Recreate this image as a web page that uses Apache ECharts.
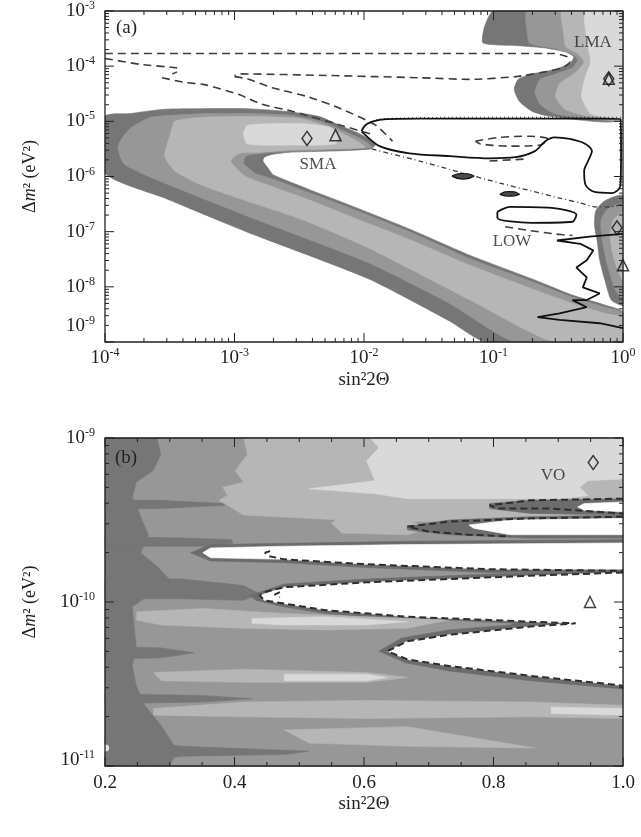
<!DOCTYPE html>
<html><head><meta charset="utf-8">
<script src="https://cdn.jsdelivr.net/npm/echarts@6/dist/echarts.min.js"></script>
<style>html,body{margin:0;padding:0;background:#fff}#c{width:641px;height:837px}</style>
</head><body><div id="c"></div>
<script>
const FONT = '"Liberation Serif","Times New Roman",serif';
const COL = {d:'#767676', m:'#979797', l:'#b6b6b6', v:'#d9d9d9', r:'#6c6c6c', w:'#ffffff', k:'#4c4c4c'};

// ---------- Panel (a): vertices as [log10(sin^2 2θ), log10(Δm^2)] ----------
const aBandDark = [[-4,-4.91],[-3.81,-4.86],[-3.54,-4.78],[-3.23,-4.77],[-2.91,-4.77],[-2.60,-4.82],[-2.35,-4.91],[-2.19,-5.07],[-2.03,-5.23],[-1.91,-5.41],[-1.95,-5.50],[-2.26,-5.54],[-2.57,-5.56],[-2.71,-5.60],[-2.77,-5.65],[-2.78,-5.72],[-2.74,-5.85],[-2.70,-5.97],[-2.44,-6.22],[-2.12,-6.51],[-1.65,-6.95],[-1.18,-7.43],[-0.71,-7.85],[-0.39,-8.15],[-0.14,-8.33],[0,-8.46],[0,-9],[-1.06,-9],[-1.34,-8.62],[-1.97,-7.85],[-2.91,-7.0],[-3.54,-6.39],[-4,-5.94]];
const aBandMed = [[-3.65,-4.93],[-3.23,-4.86],[-2.88,-4.86],[-2.57,-4.89],[-2.34,-5.0],[-2.15,-5.18],[-1.99,-5.36],[-1.94,-5.47],[-2.26,-5.52],[-2.57,-5.54],[-2.79,-5.58],[-2.91,-5.63],[-2.93,-5.76],[-2.84,-5.94],[-2.70,-6.05],[-2.44,-6.28],[-2.12,-6.56],[-1.65,-7.0],[-1.18,-7.49],[-0.71,-7.90],[-0.39,-8.19],[-0.14,-8.37],[0,-8.48],[0,-9],[-0.83,-9],[-1.34,-8.30],[-1.97,-7.56],[-2.91,-6.71],[-3.54,-6.12],[-3.85,-5.78],[-3.90,-5.45],[-3.81,-5.14]];
const aBandLight = [[-3.46,-5.0],[-3.27,-4.93],[-2.88,-4.91],[-2.49,-4.95],[-2.26,-5.11],[-2.09,-5.31],[-1.99,-5.47],[-2.26,-5.50],[-2.57,-5.52],[-2.79,-5.56],[-2.96,-5.58],[-3.03,-5.72],[-2.92,-5.99],[-2.70,-6.19],[-2.44,-6.41],[-2.12,-6.71],[-1.65,-7.14],[-1.18,-7.61],[-0.71,-8.03],[-0.39,-8.30],[-0.14,-8.48],[0,-8.57],[0,-9],[-0.54,-9],[-1.18,-8.24],[-1.97,-7.29],[-2.49,-6.77],[-2.91,-6.44],[-3.27,-6.14],[-3.46,-5.90],[-3.54,-5.63],[-3.50,-5.27]];
const aBandCore = [[-2.90,-5.07],[-2.49,-5.04],[-2.26,-5.11],[-2.20,-5.25],[-2.22,-5.41],[-2.57,-5.43],[-2.90,-5.41],[-2.93,-5.23]];
const lmaDark = [[-1.0,-3],[-1.07,-3.29],[-1.08,-3.58],[-0.80,-3.63],[-0.60,-3.67],[-0.45,-3.74],[-0.38,-3.83],[-0.41,-3.95],[-0.53,-4.06],[-0.72,-4.15],[-0.81,-4.24],[-0.84,-4.42],[-0.80,-4.64],[-0.70,-4.82],[-0.56,-4.91],[0,-4.95],[0,-3]];
const lmaMed = [[-0.74,-3],[-0.74,-3.38],[-0.72,-3.59],[-0.53,-3.68],[-0.39,-3.79],[-0.35,-3.88],[-0.39,-4.03],[-0.52,-4.14],[-0.64,-4.24],[-0.68,-4.46],[-0.64,-4.69],[-0.53,-4.86],[-0.33,-4.93],[0,-4.95],[0,-3]];
const lmaLight = [[-0.47,-3],[-0.46,-3.38],[-0.44,-3.65],[-0.35,-3.77],[-0.30,-3.92],[-0.36,-4.10],[-0.49,-4.32],[-0.52,-4.55],[-0.45,-4.78],[-0.26,-4.91],[0,-4.95],[0,-3]];
const lmaCore = [[-0.29,-3],[-0.27,-3.65],[-0.25,-3.92],[-0.29,-4.19],[-0.32,-4.55],[-0.25,-4.86],[-0.10,-4.93],[0,-4.95],[0,-3]];
const lowDark = [[0,-6.35],[-0.14,-6.44],[-0.21,-6.62],[-0.22,-6.89],[-0.20,-7.16],[-0.18,-7.52],[-0.14,-7.88],[-0.09,-8.24],[0,-8.33]];
const lowMed = [[0,-6.50],[-0.12,-6.59],[-0.17,-6.80],[-0.16,-7.16],[-0.12,-7.61],[-0.06,-8.06],[0,-8.19]];
const lowLight = [[0,-6.66],[-0.07,-6.77],[-0.10,-7.02],[-0.085,-7.34],[-0.04,-7.70],[0,-7.88]];
const blob1 = [[-1.32,-5.99],[-1.27,-5.95],[-1.20,-5.95],[-1.15,-5.99],[-1.20,-6.04],[-1.27,-6.04]];
const blob2 = [[-0.95,-6.32],[-0.91,-6.28],[-0.84,-6.28],[-0.80,-6.32],[-0.84,-6.35],[-0.91,-6.35]];

const aDashUpper = [[-4,-3.77],[-2.49,-3.77],[-1.34,-3.77],[-0.53,-3.77],[-0.43,-3.83],[-0.41,-3.92],[-0.47,-4.03],[-0.64,-4.12],[-0.83,-4.19],[-1.18,-4.24],[-1.57,-4.21],[-2.26,-4.17],[-2.96,-4.14],[-3.0,-4.17]];
const aDashDiag1 = [[-4,-3.86],[-3.72,-3.97],[-3.45,-4.03],[-3.43,-4.08],[-3.48,-4.14]];
const aDashDiag2 = [[-3.56,-4.21],[-3.37,-4.30],[-3.24,-4.33],[-2.97,-4.51],[-2.79,-4.69],[-2.55,-4.82],[-2.18,-5.07],[-1.92,-5.25]];
const aDashDiag3 = [[-3.0,-4.19],[-2.90,-4.23],[-2.71,-4.39],[-2.44,-4.55],[-2.18,-4.77],[-1.91,-5.07],[-1.78,-5.36]];
const aDashLoop = [[-1.14,-5.36],[-0.95,-5.29],[-0.72,-5.27],[-0.58,-5.32],[-0.64,-5.43],[-0.87,-5.45],[-1.10,-5.41],[-1.14,-5.36]];
const aDashShort = [[-1.03,-5.72],[-0.73,-5.68]];
const aDashLow = [[-0.91,-6.91],[-0.72,-6.98],[-0.53,-7.04],[-0.39,-7.07]];
const aDashDot = [[-1.94,-5.50],[-1.57,-5.72],[-1.34,-5.87],[-0.95,-6.12],[-0.71,-6.26],[-0.49,-6.39],[-0.33,-6.48],[-0.21,-6.55],[-0.10,-6.55],[0,-6.50]];
const aDotTop = [[-1.99,-5.07],[-1.88,-4.96],[-1.34,-4.93],[0,-4.93]];
const aSolidLoop = [[-2.02,-5.18],[-1.99,-5.07],[-1.93,-5.00],[-1.83,-4.96],[-1.57,-4.95],[-0.95,-4.95],[-0.18,-4.95],[-0.02,-4.96],[-0.015,-5.54],[-0.02,-6.17],[-0.085,-6.30],[-0.22,-6.28],[-0.29,-6.15],[-0.30,-5.90],[-0.27,-5.72],[-0.24,-5.54],[-0.29,-5.41],[-0.41,-5.32],[-0.53,-5.29],[-0.60,-5.36],[-0.68,-5.54],[-0.83,-5.65],[-1.03,-5.67],[-1.34,-5.63],[-1.65,-5.58],[-1.88,-5.45],[-2.02,-5.18]];
const aSolidLow = [[-0.97,-6.64],[-0.87,-6.55],[-0.55,-6.57],[-0.36,-6.69],[-0.39,-6.82],[-0.71,-6.84],[-0.97,-6.75],[-0.97,-6.64]];
const aSolidSpiky = [[0,-7.04],[-0.26,-7.09],[-0.51,-7.16],[-0.33,-7.22],[-0.23,-7.34],[-0.28,-7.52],[-0.36,-7.65],[-0.28,-7.83],[-0.31,-8.01],[-0.18,-8.12],[-0.28,-8.24],[-0.39,-8.24],[-0.28,-8.37],[-0.49,-8.48],[-0.66,-8.55],[-0.49,-8.60],[-0.18,-8.66],[0,-8.75]];

const aDiamonds = [[-2.44,-5.31],[-0.11,-4.23],[-0.046,-6.93]];
const aTriangles = [[-2.22,-5.25],[-0.11,-4.23],[0,-7.61]];
const aLabels = [['SMA',-2.355,-5.79],['LMA',-0.232,-3.58],['LOW',-0.857,-7.18]];

// ---------- Panel (b): vertices as [sin^2 2θ, log10(Δm^2)] ----------
const bFull = [[0.2,-9],[1,-9],[1,-11],[0.2,-11]];
const bMed = [[0.281,-9],[0.287,-9.10],[0.275,-9.20],[0.249,-9.27],[0.243,-9.36],[0.253,-9.45],[0.262,-9.54],[0.268,-9.59],[0.256,-9.70],[0.281,-9.78],[0.300,-9.86],[0.275,-9.94],[0.243,-10.03],[0.246,-10.15],[0.249,-10.27],[0.243,-10.39],[0.249,-10.51],[0.262,-10.63],[0.287,-10.75],[0.300,-10.83],[0.313,-10.91],[0.300,-11],[1,-11],[1,-9]];
const bDark1 = [[0.2,-9.60],[0.319,-9.61],[0.395,-9.62],[0.398,-9.64],[0.351,-9.66],[0.2,-9.66]];
const bDark2 = [[0.2,-9.38],[0.287,-9.38],[0.382,-9.40],[0.385,-9.41],[0.287,-9.43],[0.2,-9.43]];
const bDark3 = [[0.2,-9.86],[0.319,-9.86],[0.414,-9.90],[0.439,-9.95],[0.414,-9.99],[0.319,-9.98],[0.2,-9.98]];
const bDark4 = [[0.2,-10.27],[0.287,-10.28],[0.338,-10.31],[0.287,-10.34],[0.2,-10.35]];
const bDark5 = [[0.2,-10.56],[0.351,-10.57],[0.427,-10.59],[0.351,-10.61],[0.2,-10.62]];
const bDark6 = [[0.2,-10.83],[0.319,-10.88],[0.515,-10.91],[0.477,-10.93],[0.319,-10.94],[0.2,-11]];
const bLight1 = [[0.414,-9],[1,-9],[1,-9.50],[0.667,-9.51],[0.566,-9.50],[0.414,-9.47],[0.389,-9.41],[0.376,-9.38],[0.389,-9.35],[0.382,-9.30],[0.414,-9.27],[0.401,-9.20],[0.420,-9.10]];
const bLight2 = [[0.249,-10.06],[0.351,-10.04],[0.477,-10.07],[0.604,-10.09],[0.731,-10.11],[0.667,-10.16],[0.541,-10.17],[0.414,-10.16],[0.287,-10.14],[0.249,-10.11]];
const bLight3 = [[0.275,-10.43],[0.414,-10.41],[0.604,-10.43],[0.667,-10.46],[0.604,-10.49],[0.414,-10.49],[0.287,-10.48]];
const bLight4 = [[0.275,-10.65],[0.414,-10.61],[0.604,-10.60],[0.857,-10.61],[1,-10.63],[1,-10.71],[0.857,-10.70],[0.604,-10.71],[0.414,-10.70],[0.275,-10.69]];
const bLight5 = [[0.477,-10.78],[0.667,-10.76],[0.864,-10.89],[0.667,-10.88],[0.515,-10.86]];
const bLight6 = [[0.566,-9.47],[0.667,-9.50],[0.700,-9.55],[0.667,-9.59],[0.566,-9.58],[0.550,-9.52]];
const bVery1 = [[0.610,-9],[1,-9],[1,-9.25],[0.946,-9.26],[0.933,-9.30],[0.946,-9.35],[0.908,-9.37],[0.667,-9.37],[0.617,-9.34],[0.515,-9.31],[0.617,-9.26],[0.604,-9.14],[0.623,-9.06]];
const bVery2 = [[0.427,-10.10],[0.541,-10.09],[0.667,-10.12],[0.604,-10.14],[0.477,-10.14],[0.427,-10.13]];
const bVery3 = [[0.477,-10.44],[0.604,-10.44],[0.636,-10.46],[0.604,-10.48],[0.477,-10.48]];
const bVery4 = [[0.889,-10.64],[1,-10.65],[1,-10.69],[0.889,-10.68]];
const bRim1 = [[0.794,-9.40],[0.857,-9.38],[1,-9.37],[1,-9.47],[0.857,-9.46],[0.794,-9.43]];
const bWhite1 = [[0.930,-9.42],[0.940,-9.40],[1,-9.39],[1,-9.45],[0.940,-9.44]];
const bRim2 = [[0.667,-9.54],[0.731,-9.50],[0.857,-9.48],[1,-9.47],[1,-9.61],[0.857,-9.61],[0.731,-9.59],[0.667,-9.56]];
const bWhite2 = [[0.762,-9.53],[0.826,-9.50],[1,-9.49],[1,-9.59],[0.826,-9.59],[0.769,-9.55]];
const bRim3 = [[0.332,-9.70],[0.363,-9.65],[0.667,-9.63],[1,-9.62],[1,-9.81],[0.794,-9.82],[0.604,-9.79],[0.477,-9.76],[0.363,-9.75]];
const bWhite3 = [[0.351,-9.70],[0.363,-9.67],[0.477,-9.66],[0.667,-9.65],[1,-9.64],[1,-9.80],[0.794,-9.80],[0.604,-9.77],[0.477,-9.74],[0.363,-9.73]];
const bRim4 = [[0.424,-9.96],[0.477,-9.89],[0.604,-9.86],[0.731,-9.84],[0.857,-9.82],[1,-9.81],[1,-10.53],[0.857,-10.48],[0.731,-10.42],[0.664,-10.37],[0.623,-10.30],[0.658,-10.22],[0.731,-10.17],[0.826,-10.14],[0.832,-10.13],[0.731,-10.11],[0.667,-10.11],[0.541,-10.07],[0.477,-10.03],[0.433,-9.99]];
const bWhite4 = [[0.439,-9.96],[0.477,-9.91],[0.604,-9.88],[0.731,-9.86],[0.857,-9.84],[1,-9.82],[1,-10.51],[0.857,-10.45],[0.731,-10.39],[0.667,-10.35],[0.636,-10.30],[0.667,-10.24],[0.731,-10.20],[0.857,-10.15],[0.927,-10.13],[0.857,-10.12],[0.794,-10.11],[0.667,-10.09],[0.541,-10.05],[0.477,-10.01],[0.446,-9.99]];

const bDash1 = [[1,-9.37],[0.857,-9.38],[0.794,-9.41],[0.807,-9.43],[0.889,-9.43],[1,-9.46]];
const bDash2 = [[1,-9.48],[0.857,-9.49],[0.731,-9.51],[0.667,-9.54],[0.699,-9.57],[0.762,-9.59],[0.826,-9.60]];
const bDash3 = [[0.455,-9.69],[0.447,-9.70],[0.453,-9.72],[0.477,-9.74],[0.604,-9.77],[0.794,-9.80],[1,-9.81]];
const bDash4 = [[1,-9.82],[0.857,-9.84],[0.731,-9.86],[0.604,-9.88],[0.477,-9.91],[0.446,-9.94],[0.439,-9.96],[0.446,-9.99],[0.477,-10.01],[0.541,-10.05],[0.667,-10.09],[0.794,-10.11],[0.857,-10.12],[0.927,-10.13],[0.857,-10.15],[0.731,-10.20],[0.667,-10.24],[0.636,-10.30],[0.667,-10.35],[0.731,-10.39],[0.857,-10.45],[1,-10.51]];
const bDashHook = [[0.470,-9.94],[0.462,-9.955],[0.470,-9.97]];

const bDiamonds = [[0.954,-9.15]];
const bTriangles = [[0.949,-10.0]];
const bLabels = [['VO',0.892,-9.23]];
const bSpot = [[0.201,-10.89]];

// tick values
const aXMajor = [1e-4,1e-3,1e-2,1e-1,1];
const aYMajor = [1e-9,1e-8,1e-7,1e-6,1e-5,1e-4,1e-3];
const bXMajor = [0.2,0.4,0.6,0.8,1.0];
const bXMinor = [0.25,0.3,0.35,0.45,0.5,0.55,0.65,0.7,0.75,0.85,0.9,0.95];
const bYMajor = [1e-11,1e-10,1e-9];

// ---------- build ----------
const ca = p => [Math.pow(10,p[0]), Math.pow(10,p[1])];
const cb = p => [p[0], Math.pow(10,p[1])];
function logMinor(maj){ const out=[]; for(let i=0;i<maj.length-1;i++){ for(let m=2;m<=9;m++) out.push(maj[i]*m); } return out; }

const aShapes = [['d',aBandDark],['m',aBandMed],['l',aBandLight],['v',aBandCore],
  ['d',lmaDark],['m',lmaMed],['l',lmaLight],['v',lmaCore],
  ['d',lowDark],['m',lowMed],['l',lowLight],['k',blob1],['k',blob2]];
const bShapes = [['d',bFull],['m',bMed],['d',bDark1],['d',bDark2],['d',bDark3],['d',bDark4],['d',bDark5],['d',bDark6],
  ['l',bLight1],['l',bLight3],['l',bLight4],['l',bLight5],['l',bLight6],['v',bVery1],['v',bVery3],['v',bVery4],
  ['r',bRim1],['w',bWhite1],['r',bRim2],['w',bWhite2],['r',bRim3],['w',bWhite3],['r',bRim4],['w',bWhite4],
  ['l',bLight2],['v',bVery2]];

function polySeries(gi, shapes, conv, smooth){
  return {type:'custom', xAxisIndex:gi, yAxisIndex:gi, silent:true, z:1, animation:false,
    data: shapes.map(s => conv(s[1][0])), encode:{x:0,y:1},
    renderItem: function(params, api){
      const s = shapes[params.dataIndex];
      const cs = params.coordSys;
      const pts = s[1].map(p => api.coord(conv(p)));
      const fill = COL[s[0]];
      const shape = {points:pts};
      if (smooth) { shape.smooth = smooth; shape.smoothConstraint = [[cs.x, cs.y],[cs.x+cs.width, cs.y+cs.height]]; }
      return {type:'polygon', shape:shape,
        style:{fill:fill, stroke: s[0]==='k' ? '#111' : fill, lineWidth: s[0]==='k'?1.2:0.6}};
    }};
}
function lineSeries(gi, pts, conv, style, smooth){
  return {type:'line', xAxisIndex:gi, yAxisIndex:gi, data: pts.map(conv), symbol:'none', showSymbol:false,
    smooth: smooth||0, silent:true, z:5, animation:false, lineStyle: style, clip:false};
}
const DASH = {color:'#3c3c3c', width:1.6, type:[8,5]};
const DASHB = {color:'#2e2e2e', width:2, type:[7,4]};
const SOLID = {color:'#111', width:1.8, type:'solid'};

function tickSeries(gi, xMaj, xMin, yMaj, yMin, ref){
  return {type:'custom', xAxisIndex:gi, yAxisIndex:gi, silent:true, z:20, animation:false, data:[ref], encode:{x:0,y:1},
    renderItem: function(params, api){
      const cs = params.coordSys; const x0=cs.x, x1=cs.x+cs.width, y0=cs.y, y1=cs.y+cs.height;
      const els=[];
      const L=(a,b,c,d)=>els.push({type:'line', shape:{x1:a,y1:b,x2:c,y2:d}, style:{stroke:'#222', lineWidth:1}});
      xMaj.forEach(v=>{const p=api.coord([v,ref[1]])[0]; L(p,y1,p,y1-9); L(p,y0,p,y0+9);});
      xMin.forEach(v=>{const p=api.coord([v,ref[1]])[0]; L(p,y1,p,y1-4); L(p,y0,p,y0+4);});
      yMaj.forEach(v=>{const p=api.coord([ref[0],v])[1]; L(x0,p,x0+9,p); L(x1,p,x1-9,p);});
      yMin.forEach(v=>{const p=api.coord([ref[0],v])[1]; L(x0,p,x0+4,p); L(x1,p,x1-4,p);});
      els.push({type:'rect', shape:{x:x0,y:y0,width:cs.width,height:cs.height}, style:{fill:null, stroke:'#222', lineWidth:1.3}});
      return {type:'group', children:els};
    }};
}
function markerSeries(gi, pts, conv, sym, size){
  return {type:'scatter', xAxisIndex:gi, yAxisIndex:gi, data: pts.map(conv), symbol:sym, symbolSize:size, silent:true, z:8, animation:false, clip:false,
    itemStyle:{color:'rgba(0,0,0,0)', borderColor:'#111', borderWidth:1.5}};
}
function labelSeries(gi, labs, conv){
  return {type:'scatter', xAxisIndex:gi, yAxisIndex:gi, symbolSize:0, silent:true, z:9, animation:false,
    data: labs.map(l => ({name:l[0], value:conv([l[1],l[2]])})),
    label:{show:true, position:'inside', formatter:'{b}', fontFamily:FONT, fontSize:17, color:'#222'}};
}

const RICH = {b:{fontFamily:FONT, fontSize:19, color:'#222', lineHeight:22}, s:{fontFamily:FONT, fontSize:12, color:'#222', verticalAlign:'top'},
  e1:{fontSize:1, lineHeight:32}, e2:{fontSize:1, lineHeight:12}};
function supFmt(low, tail){ return function(v){ const e=Math.round(Math.log10(v)); return '{b|10}{s|'+e+'}' + (e===low ? '\n{'+tail+'| }' : ''); }; }

const nameY = {fontFamily:FONT, fontSize:18, color:'#222', rich:{n:{fontFamily:FONT,fontSize:18,color:'#222'}, i:{fontFamily:FONT,fontSize:18,fontStyle:'italic',color:'#222'}}};
const nameX = {fontFamily:FONT, fontSize:19, color:'#222'};
const yName = '{n|Δ}{i|m}{n|² (eV²)}';

const chart = echarts.init(document.getElementById('c'), null, {renderer:'canvas'});
chart.setOption({
  animation:false, backgroundColor:'#fff',
  grid:[{left:105, top:9, width:518, height:333}, {left:105, top:438, width:518, height:328}],
  xAxis:[
    {type:'log', logBase:10, gridIndex:0, min:1e-4, max:1, axisLine:{show:false}, axisTick:{show:false}, splitLine:{show:false},
     axisLabel:{formatter:supFmt(99,'e1'), rich:RICH, margin:5}, name:'sin²2Θ', nameLocation:'middle', nameGap:29, nameTextStyle:nameX},
    {type:'value', gridIndex:1, min:0.2, max:1.0, interval:0.2, axisLine:{show:false}, axisTick:{show:false}, splitLine:{show:false},
     axisLabel:{formatter:v=>v.toFixed(1), fontFamily:FONT, fontSize:19, color:'#222', margin:8}, name:'sin²2Θ', nameLocation:'middle', nameGap:29, nameTextStyle:nameX}
  ],
  yAxis:[
    {type:'log', logBase:10, gridIndex:0, min:1e-9, max:1e-3, splitNumber:6, axisLine:{show:false}, axisTick:{show:false}, splitLine:{show:false},
     axisLabel:{formatter:supFmt(-9,'e1'), rich:RICH, margin:10}, name:yName, nameLocation:'middle', nameGap:66, nameTextStyle:nameY},
    {type:'log', logBase:10, gridIndex:1, min:1e-11, max:1e-9, splitNumber:2, axisLine:{show:false}, axisTick:{show:false}, splitLine:{show:false},
     axisLabel:{formatter:supFmt(-11,'e2'), rich:RICH, margin:10}, name:yName, nameLocation:'middle', nameGap:66, nameTextStyle:nameY}
  ],
  graphic:[
    {type:'text', left:116, top:19, style:{text:'(a)', font:'19px '+FONT, fill:'#222'}, z:30},
    {type:'text', left:115, top:449, style:{text:'(b)', font:'19px '+FONT, fill:'#222'}, z:30}
  ],
  series:[
    polySeries(0, aShapes, ca, 0.2),
    lineSeries(0, aDashUpper, ca, DASH, 0.2),
    lineSeries(0, aDashDiag1, ca, DASH, 0.2),
    lineSeries(0, aDashDiag2, ca, DASH, 0.2),
    lineSeries(0, aDashDiag3, ca, DASH, 0.2),
    lineSeries(0, aDashLoop, ca, DASH, 0.3),
    lineSeries(0, aDashShort, ca, DASH, 0),
    lineSeries(0, aDashLow, ca, DASH, 0.2),
    lineSeries(0, aDashDot, ca, {color:'#3c3c3c', width:1.3, type:[5,3,1,3]}, 0.2),
    lineSeries(0, aDotTop, ca, {color:'#3c3c3c', width:1.3, type:[1,3]}, 0.2),
    lineSeries(0, aSolidLoop, ca, SOLID, 0.3),
    lineSeries(0, aSolidLow, ca, SOLID, 0.3),
    lineSeries(0, aSolidSpiky, ca, SOLID, 0),
    markerSeries(0, aDiamonds, ca, 'diamond', [10,14]),
    markerSeries(0, aTriangles, ca, 'triangle', [11,11]),
    labelSeries(0, aLabels, ca),
    tickSeries(0, aXMajor, logMinor(aXMajor), aYMajor, logMinor(aYMajor), [1e-2,1e-6]),
    polySeries(1, bShapes, cb, 0),
    lineSeries(1, bDash1, cb, DASHB, 0),
    lineSeries(1, bDash2, cb, DASHB, 0),
    lineSeries(1, bDash3, cb, DASHB, 0),
    lineSeries(1, bDash4, cb, DASHB, 0),
    lineSeries(1, bDashHook, cb, DASHB, 0),
    markerSeries(1, bDiamonds, cb, 'diamond', [10,14]),
    markerSeries(1, bTriangles, cb, 'triangle', [11,11]),
    labelSeries(1, bLabels, cb),
    {type:'scatter', xAxisIndex:1, yAxisIndex:1, data:bSpot.map(cb), symbol:'circle', symbolSize:7, itemStyle:{color:'#fff'}, silent:true, z:9, clip:false},
    tickSeries(1, bXMajor, bXMinor, bYMajor, logMinor(bYMajor), [0.6,1e-10])
  ]
});
</script></body></html>
